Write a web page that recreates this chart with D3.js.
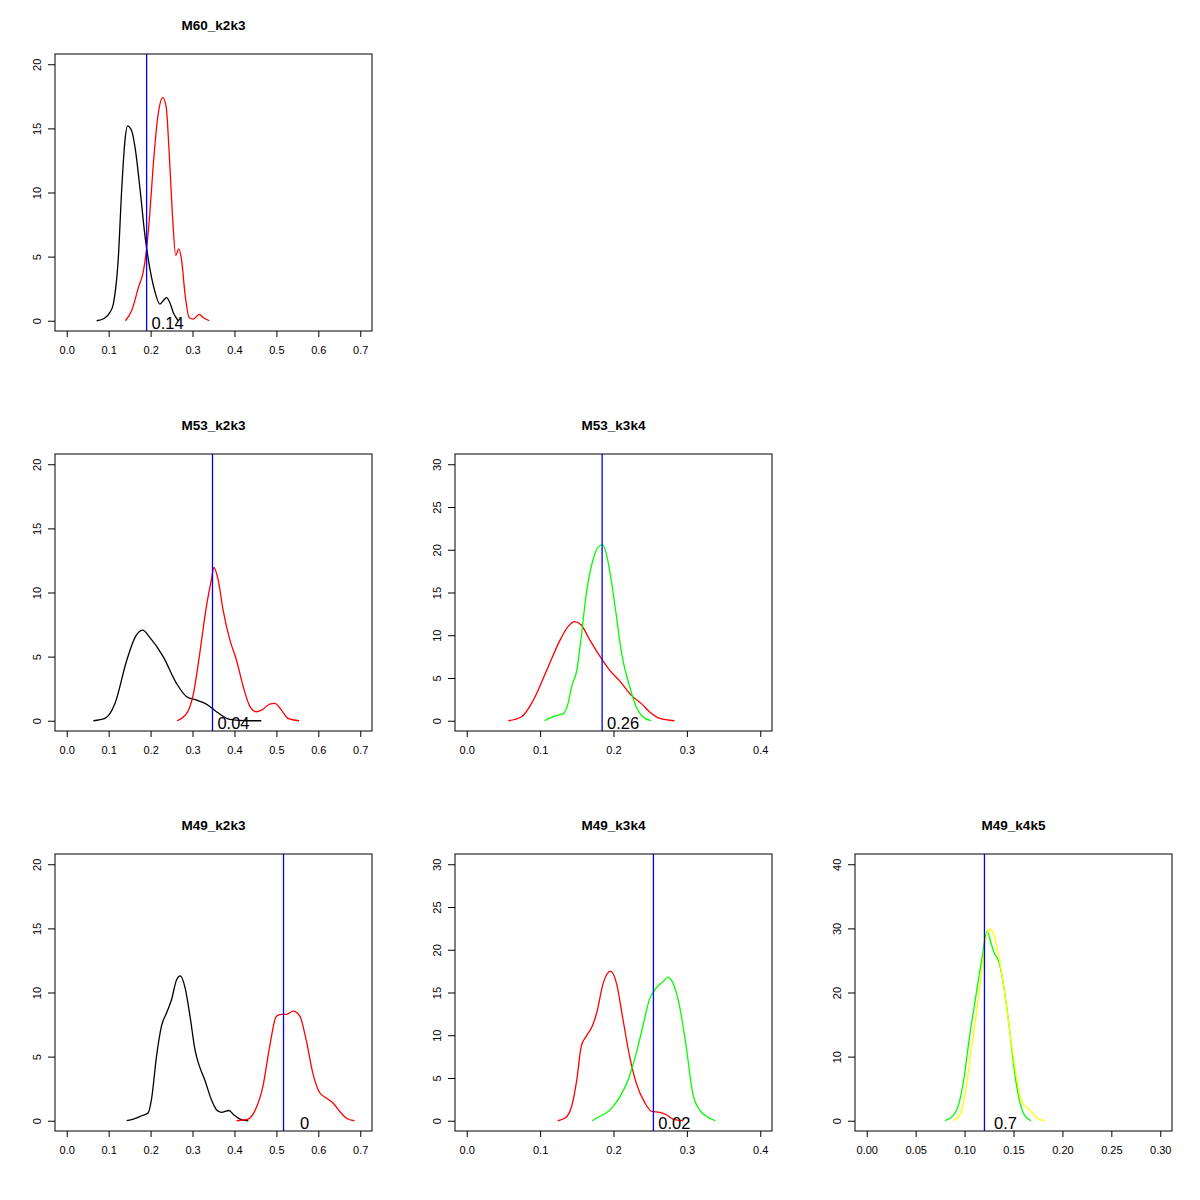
<!DOCTYPE html>
<html>
<head>
<meta charset="utf-8">
<script src="https://cdn.jsdelivr.net/npm/d3@7"></script>
<style>
  html, body { margin: 0; padding: 0; background: #fff; }
  svg { display: block; }
  text { font-family: "Liberation Sans", Arial, Helvetica, sans-serif; fill: #000; }
</style>
</head>
<body>
<svg id="chart" width="1200" height="1200"></svg>
<script>
// ---------- data ----------
const panelTitles = ["M60_k2k3", "M53_k2k3", "M53_k3k4", "M49_k2k3", "M49_k3k4", "M49_k4k5"];
const panelRows = [0, 1, 1, 2, 2, 2];
const panelCols = [0, 0, 1, 0, 1, 2];
const panelXMax = [0.7, 0.7, 0.4, 0.7, 0.4, 0.3];
const panelYMax = [20, 20, 30, 20, 30, 40];
const xTickValues = [
  [0, 0.1, 0.2, 0.3, 0.4, 0.5, 0.6, 0.7],
  [0, 0.1, 0.2, 0.3, 0.4, 0.5, 0.6, 0.7],
  [0, 0.1, 0.2, 0.3, 0.4],
  [0, 0.1, 0.2, 0.3, 0.4, 0.5, 0.6, 0.7],
  [0, 0.1, 0.2, 0.3, 0.4],
  [0, 0.05, 0.1, 0.15, 0.2, 0.25, 0.3]
];
const xTickFormats = [".1f", ".1f", ".1f", ".1f", ".1f", ".2f"];
const yTickValues = [
  [0, 5, 10, 15, 20],
  [0, 5, 10, 15, 20],
  [0, 5, 10, 15, 20, 25, 30],
  [0, 5, 10, 15, 20],
  [0, 5, 10, 15, 20, 25, 30],
  [0, 10, 20, 30, 40]
];
const vlineValues = [0.1905, 0.3476, 0.1845, 0.517, 0.2544, 0.1203];
const pValueLabels = ["0.14", "0.04", "0.26", "0", "0.02", "0.7"];

// density curves [x, density]
const m60k2k3_black = [[0.0714,0],[0.09,0.2],[0.103,0.65],[0.111,1.3],[0.123,4.9],[0.131,10.2],[0.139,14.1],[0.145,15.2],[0.155,14.8],[0.163,13.5],[0.175,10.2],[0.187,6.5],[0.194,4.9],[0.21,2.3],[0.222,1.3],[0.23,1.56],[0.238,1.8],[0.246,1.4],[0.254,0.65],[0.266,0]];
const m60k2k3_red = [[0.14,0],[0.155,0.8],[0.171,2.6],[0.183,3.9],[0.19,5.5],[0.198,8.3],[0.206,12.0],[0.218,16.1],[0.229,17.4],[0.237,16.7],[0.244,13.3],[0.252,8.3],[0.26,5.1],[0.267,5.6],[0.274,4.7],[0.282,2.1],[0.292,0.26],[0.302,0.13],[0.316,0.5],[0.325,0.26],[0.34,0]];
const m53k2k3_black = [[0.0635,0],[0.091,0.18],[0.115,1.35],[0.143,4.7],[0.163,6.5],[0.181,7.06],[0.198,6.5],[0.23,5.0],[0.262,2.9],[0.286,1.87],[0.31,1.6],[0.333,1.3],[0.357,0.7],[0.389,0.1],[0.429,0],[0.464,0]];
const m53k2k3_red = [[0.263,0],[0.286,0.57],[0.302,2.1],[0.317,5.2],[0.333,8.9],[0.345,11.0],[0.351,11.95],[0.361,11.0],[0.373,8.6],[0.389,6.3],[0.405,4.7],[0.421,2.65],[0.437,1.1],[0.452,0.7],[0.468,0.9],[0.484,1.3],[0.496,1.35],[0.512,0.83],[0.528,0.18],[0.554,0]];
const m53k3k4_red = [[0.0567,0],[0.0748,0.47],[0.0907,2.4],[0.109,5.9],[0.127,9.4],[0.138,11.0],[0.147,11.6],[0.156,11.2],[0.168,9.4],[0.185,7.1],[0.195,5.9],[0.209,4.6],[0.224,3.0],[0.238,2.0],[0.249,1.05],[0.263,0.27],[0.283,0]];
const m53k3k4_green = [[0.106,0],[0.118,0.47],[0.125,0.66],[0.132,0.86],[0.138,2.0],[0.143,4.0],[0.15,5.9],[0.156,9.8],[0.163,14.9],[0.172,18.8],[0.179,20.3],[0.185,20.6],[0.19,19.6],[0.197,16.4],[0.204,12.2],[0.211,7.9],[0.222,4.0],[0.231,1.6],[0.24,0.47],[0.251,0]];
const m49k2k3_black = [[0.143,0],[0.159,0.13],[0.179,0.39],[0.194,0.6],[0.202,1.64],[0.214,5.0],[0.226,7.4],[0.238,8.4],[0.25,9.45],[0.262,11.0],[0.271,11.3],[0.282,10.4],[0.294,8.15],[0.306,5.5],[0.317,4.2],[0.329,3.2],[0.345,1.64],[0.357,0.86],[0.369,0.65],[0.387,0.8],[0.398,0.47],[0.413,0.13],[0.433,0]];
const m49k2k3_red = [[0.405,0],[0.429,0.08],[0.448,0.73],[0.468,2.7],[0.484,5.8],[0.5,8.15],[0.512,8.3],[0.524,8.3],[0.54,8.55],[0.556,8.15],[0.571,6.3],[0.587,3.7],[0.603,2.2],[0.619,1.77],[0.635,1.38],[0.651,0.73],[0.667,0.2],[0.686,0]];
const m49k3k4_red = [[0.124,0],[0.134,0.31],[0.143,1.7],[0.15,4.8],[0.156,8.7],[0.163,9.9],[0.171,11.05],[0.177,12.6],[0.186,16.1],[0.196,17.5],[0.204,16.1],[0.213,11.8],[0.222,7.5],[0.231,4.4],[0.243,2.07],[0.252,1.1],[0.263,0.98],[0.272,0.7],[0.281,0.2],[0.295,0]];
const m49k3k4_green = [[0.171,0],[0.181,0.5],[0.19,0.9],[0.2,1.7],[0.209,2.85],[0.22,4.8],[0.231,7.9],[0.24,11.05],[0.249,14.2],[0.258,15.5],[0.268,16.3],[0.274,16.8],[0.281,16.1],[0.29,13.4],[0.299,8.7],[0.308,3.2],[0.317,1.3],[0.327,0.5],[0.339,0]];
const m49k4k5_green = [[0.0798,0],[0.0876,0.68],[0.0944,2.76],[0.0996,6.9],[0.1047,12.7],[0.1115,19.4],[0.1176,25.2],[0.1231,29.6],[0.1268,27.8],[0.1302,26.2],[0.1354,24.6],[0.1405,20.5],[0.1456,14.7],[0.1507,8.0],[0.1558,3.3],[0.162,0.68],[0.168,0]];
const m49k4k5_yellow = [[0.0886,0],[0.0961,1.2],[0.1013,4.8],[0.1064,10.6],[0.1132,17.9],[0.119,25.2],[0.1224,28.8],[0.1258,29.9],[0.1302,28.8],[0.1354,25.2],[0.1405,20.5],[0.1473,12.7],[0.1524,7.4],[0.1575,3.3],[0.1626,2.2],[0.1677,1.5],[0.1746,0.4],[0.1814,0]];

const panelCurves = [
  [m60k2k3_black, m60k2k3_red],
  [m53k2k3_black, m53k2k3_red],
  [m53k3k4_red, m53k3k4_green],
  [m49k2k3_black, m49k2k3_red],
  [m49k3k4_red, m49k3k4_green],
  [m49k4k5_green, m49k4k5_yellow]
];
const panelCurveColors = [
  ["#000000", "#ff0000"],
  ["#000000", "#ff0000"],
  ["#ff0000", "#00ff00"],
  ["#000000", "#ff0000"],
  ["#ff0000", "#00ff00"],
  ["#00ff00", "#ffff00"]
];

// ---------- layout ----------
const cellW = 400, cellH = 400;
const boxL = 55, boxR = 372, boxT = 54, boxB = 331;

const svg = d3.select("#chart");
svg.append("rect").attr("width", 1200).attr("height", 1200).attr("fill", "#fff");

panelTitles.forEach((title, i) => {
  const g = svg.append("g")
    .attr("transform", `translate(${panelCols[i] * cellW},${panelRows[i] * cellH})`);
  const xMax = panelXMax[i], yMax = panelYMax[i];
  const x = d3.scaleLinear()
    .domain([-0.04 * xMax, xMax * 1.04])
    .range([boxL, boxR]);
  const y = d3.scaleLinear()
    .domain([-0.04 * yMax, yMax * 1.04])
    .range([boxB, boxT]);

  // curves
  const line = d3.line()
    .x(d => x(d[0]))
    .y(d => y(d[1]))
    .curve(d3.curveMonotoneX);
  panelCurves[i].forEach((c, j) => {
    g.append("path")
      .datum(c)
      .attr("d", line)
      .attr("fill", "none")
      .attr("stroke", panelCurveColors[i][j])
      .attr("stroke-width", 1.3)
      .attr("stroke-linejoin", "round");
  });

  // vertical line
  g.append("line")
    .attr("x1", x(vlineValues[i])).attr("x2", x(vlineValues[i]))
    .attr("y1", boxT).attr("y2", boxB)
    .attr("stroke", "#0000ff")
    .attr("stroke-width", 1.3);

  // p-value label
  g.append("text")
    .attr("x", x(vlineValues[i]) + 21)
    .attr("y", y(0) + 8.5)
    .attr("text-anchor", "middle")
    .style("font-size", "16.5px")
    .text(pValueLabels[i]);

  // box
  g.append("rect")
    .attr("x", boxL).attr("y", boxT)
    .attr("width", boxR - boxL).attr("height", boxB - boxT)
    .attr("fill", "none")
    .attr("stroke", "#000")
    .attr("stroke-width", 1);

  // x axis
  const xAxis = d3.axisBottom(x)
    .tickValues(xTickValues[i])
    .tickFormat(d3.format(xTickFormats[i]))
    .tickSize(6)
    .tickPadding(9);
  const xg = g.append("g").attr("transform", `translate(0,${boxB})`).call(xAxis);
  xg.select(".domain").remove();
  xg.selectAll("line").attr("stroke", "#000");
  xg.selectAll("text").style("font-size", "11px").attr("fill", "#222")
    .style("font-family", '"Liberation Sans", Arial, sans-serif');

  // y axis
  const yAxis = d3.axisLeft(y)
    .tickValues(yTickValues[i])
    .tickSize(7)
    .tickPadding(0);
  const yg = g.append("g").attr("transform", `translate(${boxL},0)`).call(yAxis);
  yg.select(".domain").remove();
  yg.selectAll("line").attr("stroke", "#000");
  yg.selectAll("text")
    .attr("x", null).attr("dy", null)
    .attr("text-anchor", "middle")
    .attr("transform", "translate(-18,0) rotate(-90)")
    .attr("y", 0)
    .attr("dy", "0.35em")
    .style("font-size", "11px")
    .attr("fill", "#222")
    .style("font-family", '"Liberation Sans", Arial, sans-serif');

  // title
  g.append("text")
    .attr("x", (boxL + boxR) / 2)
    .attr("y", 30)
    .attr("text-anchor", "middle")
    .style("font-size", "13.5px")
    .style("font-weight", "bold")
    .text(title);
});
</script>
</body>
</html>
